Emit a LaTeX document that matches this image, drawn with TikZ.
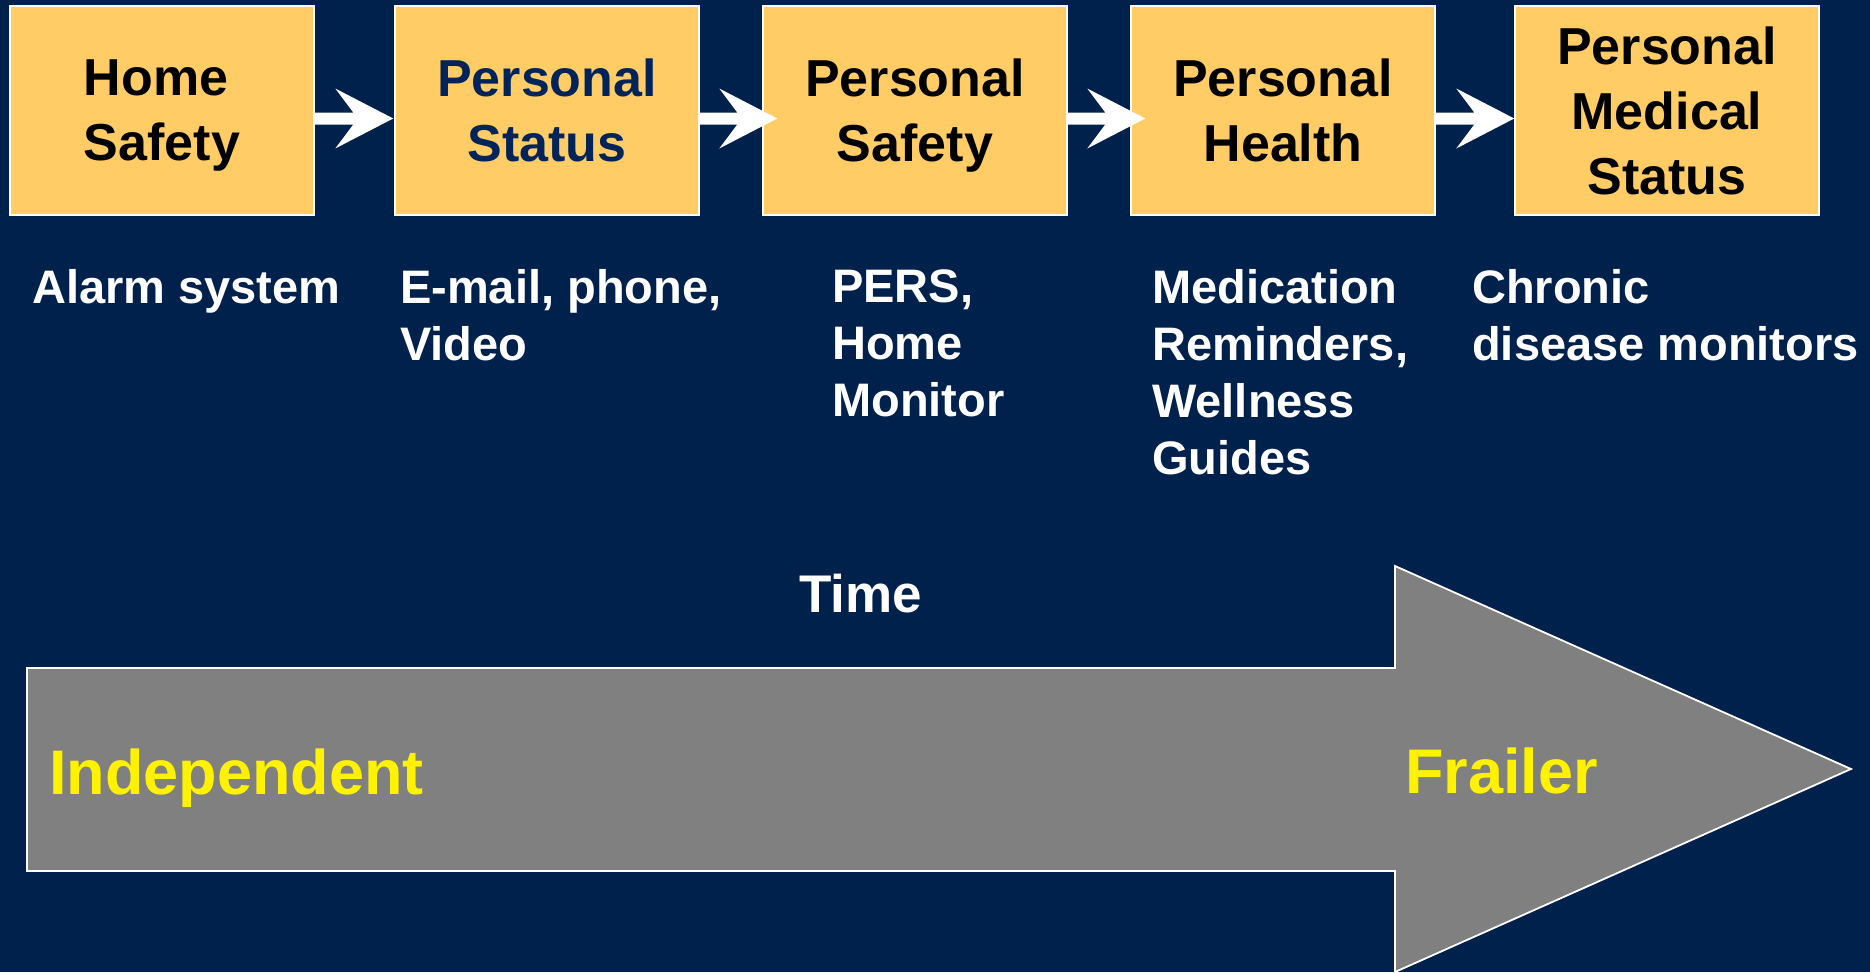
\documentclass[tikz,border=0pt]{standalone}
\usepackage{fontspec}
\setmainfont{Liberation Sans}
\usetikzlibrary{calc}
\definecolor{navy}{RGB}{0,33,76}
\definecolor{boxfill}{RGB}{255,204,102}
\definecolor{boxnavy}{RGB}{0,36,90}
\definecolor{arrowgrey}{RGB}{128,128,128}
\tikzset{
  stagebox/.style={draw=white, line width=1.5pt, fill=boxfill, minimum width=304pt,
    minimum height=209pt, inner sep=0pt, align=center,
    font=\fontsize{52}{65}\selectfont\bfseries},
  desc/.style={anchor=north west, inner sep=0pt, align=left, text=white,
    font=\fontsize{47}{57}\selectfont\bfseries},
  blockarrow/.style={fill=white},
  bigarrow/.style={draw=white, line width=1.8pt, fill=arrowgrey},
  biglabel/.style={anchor=base west, inner sep=0pt, text=yellow,
    font=\fontsize{63}{70}\selectfont\bfseries}
}
\begin{document}
\begin{tikzpicture}[x=1pt,y=-1pt]
\useasboundingbox (0,0) rectangle (1870,972);
\fill[navy] (0,0) rectangle (1870,972);

% stage boxes
\node[stagebox, align=left] (b1) at (162,110.5) {Home\\\smash{Safety}};
\node[stagebox, text=boxnavy] (b2) at (547,110.5) {Personal\\Status};
\node[stagebox] (b3) at (915,110.5) {Personal\\\smash{Safety}};
\node[stagebox] (b4) at (1283,110.5) {Personal\\Health};
\node[stagebox] (b5) at (1667,110.5) {Personal\\Medical\\Status};

% tips of the connecting block arrows
\coordinate (t1) at ($(b2.west)+(-1,8)$);
\coordinate (t2) at ($(b3.west)+(15,8)$);
\coordinate (t3) at ($(b4.west)+(15,8)$);
\coordinate (t4) at ($(b5.west)+(0,8)$);

\foreach \a/\t in {b1/t1,b2/t2,b3/t3,b4/t4}{
  \fill[blockarrow] (\a.east |- {$(\t)+(0,-6)$}) -- ($(\t)+(-40,-6)$) -- ($(\t)+(-58,-30)$)
    -- (\t) -- ($(\t)+(-58,30)$) -- ($(\t)+(-40,6)$) -- (\a.east |- {$(\t)+(0,6)$}) -- cycle;
}

% descriptions
\node[desc] (d1) at (32,269) {Alarm system};
\node[desc] (d2) at (400,269) {E-mail, phone,\\Video};
\node[desc] (d3) at (832,269) {PERS,\\Home\\Monitor};
\node[desc] (d4) at (1152,269) {Medication\\Reminders,\\Wellness\\Guides};
\node[desc] (d5) at (1472,269) {Chronic\\disease monitors};

% time label
\node[anchor=base west, inner sep=0pt, text=white, font=\fontsize{53}{60}\selectfont\bfseries] (time) at (799,612) {Time};

% big arrow
\draw[bigarrow] (27,668) -- (1395,668) -- (1395,566) -- (1851,769) -- (1395,972) -- (1395,871) -- (27,871) -- cycle;
\node[biglabel] (indep) at (49,794) {Independent};
\node[biglabel] (frail) at (1405,793) {Frailer};
\end{tikzpicture}
\end{document}
